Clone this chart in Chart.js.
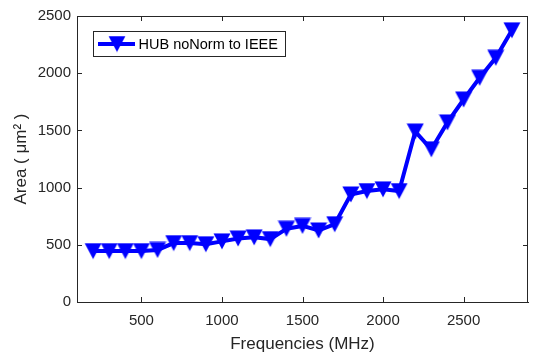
<!DOCTYPE html>
<html>
<head>
<meta charset="utf-8">
<script src="https://cdn.jsdelivr.net/npm/chart.js@4/dist/chart.umd.min.js"></script>
<style>
  html, body { margin: 0; padding: 0; background: #fff; overflow: hidden; }
  #wrap { width: 541px; height: 358px; }
</style>
</head>
<body>
<div id="wrap"><canvas id="grafico"></canvas></div>
<script>
// Datos.
const FRECUENCIAS = [200, 300, 400, 500, 600, 700, 800, 900, 1000, 1100, 1200, 1300, 1400,
    1500, 1600, 1700, 1800, 1900, 2000, 2100, 2200, 2300, 2400, 2500, 2600, 2700, 2800];
const AREA = [445, 445, 445, 445, 455, 515, 515, 505, 530, 555, 565, 550, 640,
    665, 625, 680, 940, 970, 985, 970, 1490, 1335, 1570, 1770, 1960, 2135, 2375];
const X_TICKS = [500, 1000, 1500, 2000, 2500];
const Y_TICKS = [0, 500, 1000, 1500, 2000, 2500];
const SERIE = 'HUB noNorm to IEEE';

const AZUL = '#0000ff';
const EJE = '#262626';
const FUENTE = '"Liberation Sans", Arial, Helvetica, sans-serif';

// Marcador triángulo hacia abajo al estilo MATLAB (más ancho que equilátero).
function marcador() {
    const c = document.createElement('canvas');
    c.width = 18;
    c.height = 17;
    const g = c.getContext('2d');
    g.fillStyle = AZUL;
    g.beginPath();
    g.moveTo(0.5, 0.5);
    g.lineTo(17.5, 0.5);
    g.lineTo(9, 16.5);
    g.closePath();
    g.fill();
    return c;
}
const TRIANGULO = marcador();

// Marcas de graduación hacia dentro, caja superior/derecha y leyenda.
const cajaEjes = {
    id: 'cajaEjes',
    afterDraw(chart) {
        const { ctx, chartArea: a, scales } = chart;
        const L = 5;
        ctx.save();
        ctx.strokeStyle = EJE;
        ctx.lineWidth = 1;
        ctx.beginPath();
        ctx.moveTo(a.left, a.top + 0.5);
        ctx.lineTo(a.right, a.top + 0.5);
        ctx.moveTo(a.right - 0.5, a.top);
        ctx.lineTo(a.right - 0.5, a.bottom);
        X_TICKS.forEach((v) => {
            const x = Math.round(scales.x.getPixelForValue(v)) + 0.5;
            ctx.moveTo(x, a.bottom);
            ctx.lineTo(x, a.bottom - L);
            ctx.moveTo(x, a.top);
            ctx.lineTo(x, a.top + L);
        });
        Y_TICKS.forEach((v) => {
            const y = Math.round(scales.y.getPixelForValue(v)) + 0.5;
            ctx.moveTo(a.left, y);
            ctx.lineTo(a.left + L, y);
            ctx.moveTo(a.right, y);
            ctx.lineTo(a.right - L, y);
        });
        ctx.stroke();

        // Leyenda
        const bx = 93.5, by = 31.5, bw = 192, bh = 25;
        ctx.fillStyle = '#fff';
        ctx.fillRect(bx, by, bw, bh);
        ctx.strokeStyle = EJE;
        ctx.strokeRect(bx, by, bw, bh);
        const ly = by + bh / 2;
        ctx.strokeStyle = AZUL;
        ctx.lineWidth = 4;
        ctx.beginPath();
        ctx.moveTo(98, ly);
        ctx.lineTo(135, ly);
        ctx.stroke();
        ctx.drawImage(TRIANGULO, 117 - 9, ly - 8.5);
        ctx.fillStyle = '#000';
        ctx.font = '14.5px ' + FUENTE;
        ctx.textBaseline = 'middle';
        ctx.textAlign = 'left';
        ctx.fillText(chart.data.datasets[0].label, 138.5, ly + 0.5);
        ctx.restore();
    },
};

new Chart(document.getElementById('grafico'), {
    type: 'line',
    data: {
        datasets: [
            {
                label: SERIE,
                data: FRECUENCIAS.map((f, i) => ({ x: f, y: AREA[i] })),
                borderColor: AZUL,
                backgroundColor: AZUL,
                borderWidth: 4,
                tension: 0,
                pointStyle: TRIANGULO,
                pointRadius: 9,
                pointHoverRadius: 9,
            },
        ],
    },
    options: {
        responsive: true,
        maintainAspectRatio: false,
        animation: false,
        events: [],
        layout: { padding: { top: 16, right: 1, left: 0, bottom: 0 } },
        plugins: { legend: { display: false }, tooltip: { enabled: false } },
        scales: {
            x: {
                type: 'linear',
                min: 100,
                max: 2900,
                afterBuildTicks: (s) => { s.ticks = X_TICKS.map((v) => ({ value: v })); },
                afterFit: (s) => { s.height = 56; },
                grid: { drawOnChartArea: false, drawTicks: false },
                border: { display: true, color: EJE, width: 1 },
                ticks: {
                    color: EJE,
                    font: { family: FUENTE, size: 15 },
                    padding: 10,
                    maxRotation: 0,
                    callback: (v) => String(v),
                },
                title: {
                    display: true,
                    text: 'Frequencies (MHz)',
                    color: EJE,
                    font: { family: FUENTE, size: 17 },
                    padding: { top: 0, bottom: 3 },
                },
            },
            y: {
                min: 0,
                max: 2500,
                afterBuildTicks: (s) => { s.ticks = Y_TICKS.map((v) => ({ value: v })); },
                afterFit: (s) => { s.width = 77; },
                grid: { drawOnChartArea: false, drawTicks: false },
                border: { display: true, color: EJE, width: 1 },
                ticks: {
                    color: EJE,
                    font: { family: FUENTE, size: 15 },
                    padding: 6,
                    callback: (v) => String(v),
                },
                title: {
                    display: true,
                    text: 'Area ( μm² )',
                    color: EJE,
                    font: { family: FUENTE, size: 17 },
                    padding: { top: 11, bottom: 0 },
                },
            },
        },
    },
    plugins: [cajaEjes],
});
</script>
</body>
</html>
